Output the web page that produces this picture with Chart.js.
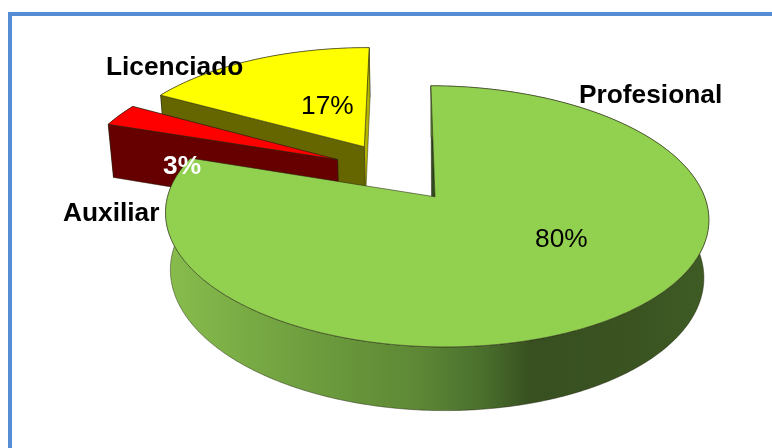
<!DOCTYPE html>
<html><head><meta charset="utf-8">
<style>
html,body{margin:0;padding:0;background:#fff;overflow:hidden}
#wrap{position:relative;width:772px;height:448px;overflow:hidden}
#frame{position:absolute;left:8px;top:12px;width:800px;height:480px;border:4px solid #558ed5;box-sizing:border-box}
canvas{position:absolute;left:0;top:0}
</style>
<script src="https://cdn.jsdelivr.net/npm/chart.js@4"></script>
</head><body>
<div id="wrap"><div id="frame"></div><canvas id="c" width="772" height="448"></canvas></div>
<script>
const categories = ['Profesional', 'Auxiliar', 'Licenciado'];
const shareValues = [80, 3, 17];
const topColors = ['#92d050', '#ff0000', '#ffff00'];
const wallColors = ['#4c6f2a', '#660000', '#666600'];
const labelColors = ['#000000', '#ffffff', '#000000'];

// pie-in-perspective camera
const cam = {x0:435, y0:196.8, a:268.6, b:127.6, p:0.1495, r:0.008, q:0.018, h:58, t:0.013};
const explode = [[0,0],[-0.38,-0.295],[-0.28,-0.41]];
const nameLabels = [[579,103],[63,221],[106,75]];
const pctLabels = [[535,247],[163,174],[301,114]];
const pctBold = [false,true,false];

function project(u,v,low){
  const d = 1 - cam.p*v - cam.r*u + (low?cam.q:0);
  return [cam.x0 + cam.a*u/d, cam.y0 + (cam.b*v + cam.t*cam.a*u + (low?cam.h:0))/d];
}
function polar(i,ang,rad){
  return [explode[i][0] + rad*Math.cos(ang), explode[i][1] + rad*Math.sin(ang)];
}
function trace(ctx,pts){ pts.forEach((p,k)=> k?ctx.lineTo(p[0],p[1]):ctx.moveTo(p[0],p[1])); }
function arcPts(i,a0,a1,low){
  const n = Math.max(4,Math.ceil(Math.abs(a1-a0)/0.01)), out=[];
  for(let k=0;k<=n;k++){ const t=a0+(a1-a0)*k/n, q=polar(i,t,1); out.push(project(q[0],q[1],low)); }
  return out;
}
function wall(ctx,pts,fill){
  ctx.beginPath(); trace(ctx,pts); ctx.closePath();
  ctx.fillStyle=fill; ctx.fill();
  ctx.lineWidth=0.7; ctx.strokeStyle='rgba(30,30,10,0.65)'; ctx.stroke();
}
const pie3d = {
  id:'pie3d',
  beforeDatasetDraw(chart,args){
    const ctx=chart.ctx, els=args.meta.data;
    const grad=ctx.createLinearGradient(165,0,710,0);
    [[0,'#88bd4d'],[0.25,'#6f9f3f'],[0.47,'#5d8735'],[0.58,'#4a702d'],[0.67,'#385020'],[0.85,'#3a5321'],[1,'#3f5c25']]
      .forEach(s=>grad.addColorStop(s[0],s[1]));
    ctx.save(); ctx.lineJoin='round';
    [2,1,0].forEach(i=>{
      const e=els[i], a0=e.startAngle, a1=e.endAngle;
      const ctr=[explode[i][0],explode[i][1]];
      const topA=project(ctr[0],ctr[1],false), lowA=project(ctr[0],ctr[1],true);
      const s=polar(i,a0,1), t=polar(i,a1,1);
      const fill=i===0?grad:wallColors[i];
      const up=arcPts(i,a0,a1,false), lo=arcPts(i,a1,a0,true);
      if(i===0){
        // the notch-facing wall seen edge-on
        const topS=project(s[0],s[1],false);
        wall(ctx,[topS,topA,[topA[0]-3.5,topA[1]]],'#2f4a1c');
        wall(ctx,up.concat(lo),fill);
      } else {
        wall(ctx,up.concat(lo),fill);
        wall(ctx,[topA,project(t[0],t[1],false),project(t[0],t[1],true),lowA],i===2?'#b5b500':fill);
        wall(ctx,[topA,project(s[0],s[1],false),project(s[0],s[1],true),lowA],fill);
      }
      ctx.beginPath(); trace(ctx,[topA].concat(up)); ctx.closePath();
      ctx.fillStyle=topColors[i]; ctx.fill();
      ctx.lineWidth=0.8; ctx.strokeStyle='rgba(40,40,20,0.7)'; ctx.stroke();
    });
    ctx.restore();
    return false;
  },
  afterDatasetsDraw(chart){
    const ctx=chart.ctx;
    ctx.save(); ctx.textBaseline='alphabetic'; ctx.textAlign='left';
    categories.forEach((name,i)=>{
      ctx.font='bold 26.3px "Liberation Sans"'; ctx.fillStyle='#000';
      ctx.fillText(name,nameLabels[i][0],nameLabels[i][1]);
      ctx.font=(pctBold[i]?'bold ':'')+'26.3px "Liberation Sans"'; ctx.fillStyle=labelColors[i];
      ctx.fillText(shareValues[i]+'%',pctLabels[i][0],pctLabels[i][1]);
    });
    ctx.restore();
  }
};
new Chart(document.getElementById('c'),{
  type:'pie',
  data:{labels:categories,datasets:[{data:shareValues,backgroundColor:topColors,borderWidth:0}]},
  options:{responsive:false,animation:false,rotation:-1,
    plugins:{legend:{display:false},tooltip:{enabled:false}}},
  plugins:[pie3d]
});
</script>
</body></html>
